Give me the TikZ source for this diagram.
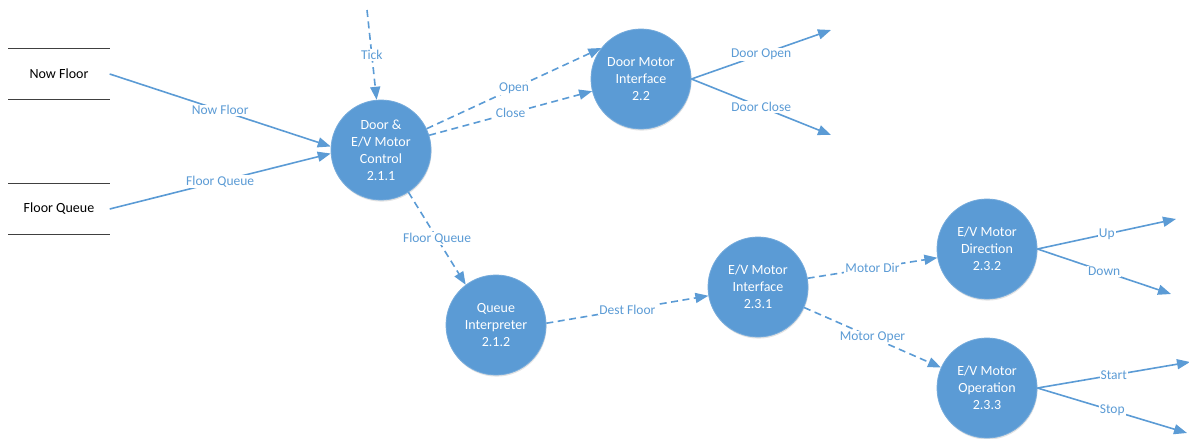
\documentclass[tikz,border=0pt]{standalone}
\usepackage{fontspec}
\setmainfont{Carlito}
\usetikzlibrary{arrows.meta,shadows}
\definecolor{flow}{HTML}{5B9BD5}
\definecolor{procfill}{HTML}{5B9BD5}
\definecolor{storeline}{HTML}{404040}
\begin{document}
\begin{tikzpicture}[x=1pt,y=-1pt,
  proc/.style={circle, fill=procfill, draw=procfill!85!white, line width=0.8pt,
    minimum size=100pt, inner sep=0pt, text=white, align=center,
    font=\fontsize{14}{17}\selectfont,
    drop shadow={shadow xshift=0.6pt, shadow yshift=-1.6pt, opacity=0.22, fill=gray}},
  store/.style={minimum width=101pt, minimum height=50pt, inner sep=0pt,
    font=\fontsize{14}{16}\selectfont},
  storeedge/.style={draw=storeline, line width=0.9pt},
  flowline/.style={draw=flow, line width=1.6pt, -{Triangle[length=13pt,width=10pt]}},
  ctlflow/.style={flowline, dash pattern=on 7pt off 4.5pt},
  lbl/.style={fill=white, inner sep=1pt, text=flow, font=\fontsize{13.5}{15}\selectfont}
]
\useasboundingbox (0,0) rectangle (1189,439);

% data stores
\node[store] (nowfloor) at (59,74) {Now Floor};
\node[store] (floorq) at (59,209) {Floor Queue};
\foreach \s in {nowfloor,floorq}{
  \draw[storeedge] (\s.north west) -- (\s.north east);
  \draw[storeedge] (\s.south west) -- (\s.south east);
}

% processes
\node[proc] (ctrl) at (381,150) {Door \&\\E/V Motor\\Control\\2.1.1};
\node[proc] (door) at (641,79) {Door Motor\\Interface\\2.2};
\node[proc] (qi) at (496,325) {Queue\\Interpreter\\2.1.2};
\node[proc] (evi) at (758,287) {E/V Motor\\Interface\\2.3.1};
\node[proc] (dir) at (987,249) {E/V Motor\\Direction\\2.3.2};
\node[proc] (oper) at (987,388) {E/V Motor\\Operation\\2.3.3};

% free ends of flows
\coordinate (tick) at (367,10);
\coordinate (dooropen) at (831,30);
\coordinate (doorclose) at (831,135);
\coordinate (up) at (1176,219);
\coordinate (down) at (1171,294);
\coordinate (start) at (1190,362);
\coordinate (stop) at (1187,433);

% data flows
\draw[flowline] (nowfloor.east) -- node[lbl]{Now Floor} (ctrl.176);
\draw[flowline] (floorq.east) -- node[lbl]{Floor Queue} (ctrl.184);
\draw[flowline] (door.east) -- node[lbl]{Door Open} (dooropen);
\draw[flowline] (door.east) -- node[lbl]{Door Close} (doorclose);
\draw[flowline] (dir.east) -- node[lbl]{Up} (up);
\draw[flowline] (dir.east) -- node[lbl]{Down} (down);
\draw[flowline] (oper.east) -- node[lbl]{Start} (start);
\draw[flowline] (oper.east) -- node[lbl]{Stop} (stop);

% control flows
\draw[ctlflow] (tick) -- node[lbl]{Tick} (ctrl.95);
\draw[ctlflow] (ctrl.25) -- node[lbl]{Open} (door.142);
\draw[ctlflow] (ctrl.17) -- node[lbl]{Close} (door.194);
\draw[ctlflow] (ctrl.-57) -- node[lbl]{Floor Queue} (qi.127);
\draw[ctlflow] (qi.2) -- node[lbl]{Dest Floor} (evi.190);
\draw[ctlflow] (evi.10) -- node[lbl]{Motor Dir} (dir.190);
\draw[ctlflow] (evi.-24) -- node[lbl]{Motor Oper} (oper.156);
\end{tikzpicture}
\end{document}
